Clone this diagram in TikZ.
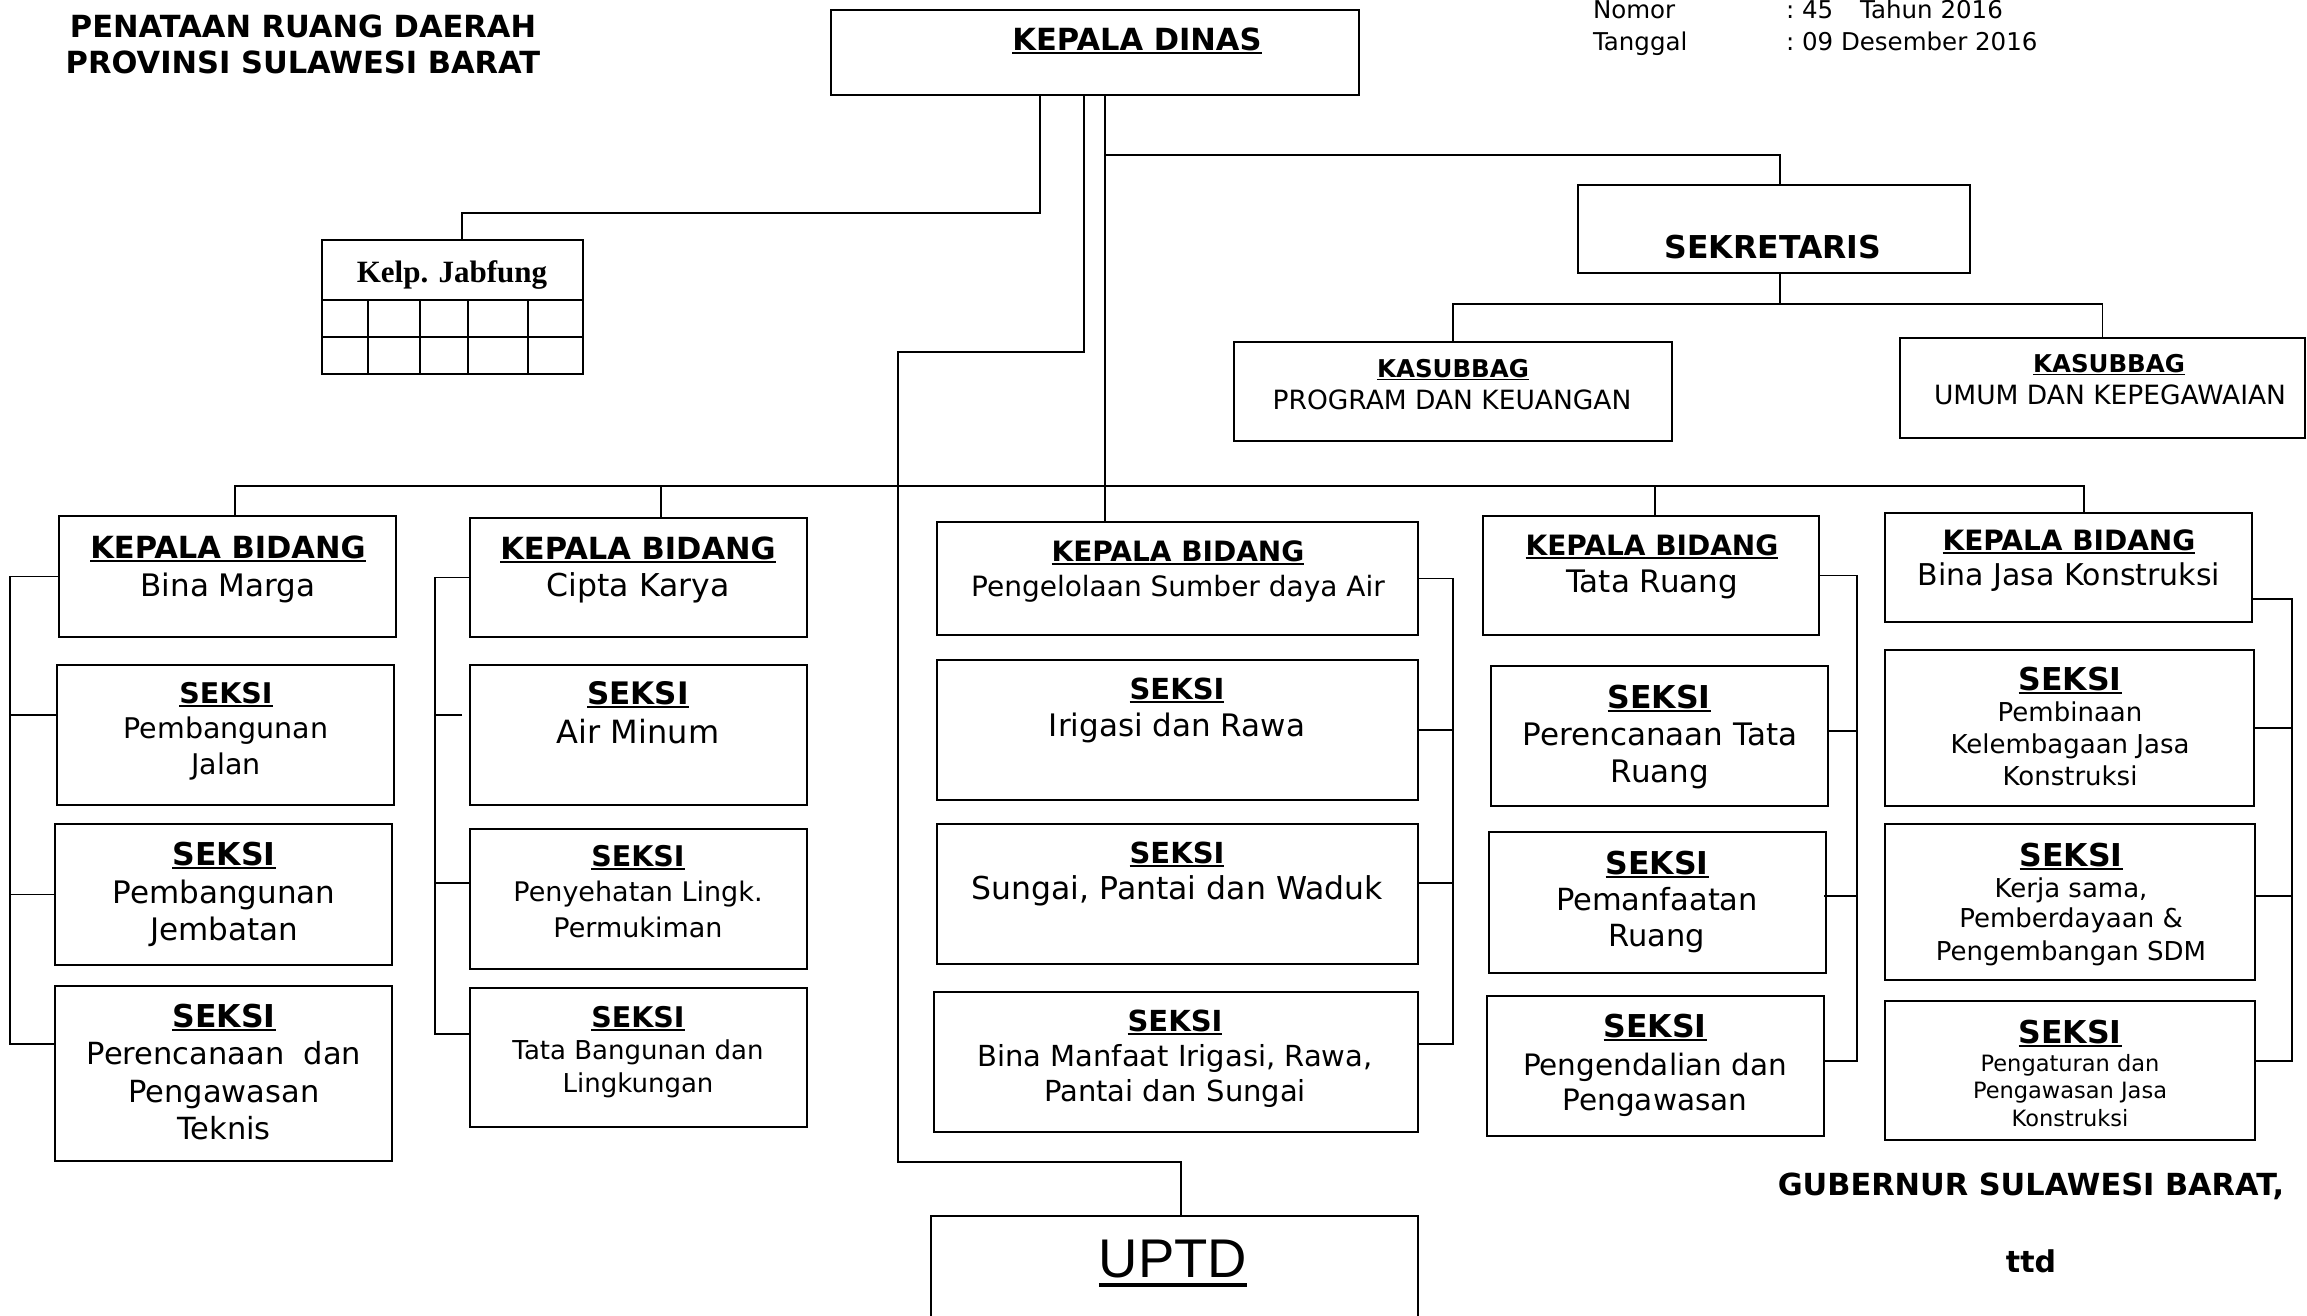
\documentclass[tikz,border=0pt]{standalone}
\usepackage{fontspec}
\setmainfont{DejaVu Sans}
\newfontfamily\serifb{Liberation Serif}
\newfontfamily\arialf{Liberation Sans}
\usetikzlibrary{fit}
\newcounter{tn}
\newcommand\fsz[1]{\fontsize{#1}{#1}\selectfont}
\newcommand\myul[1]{\setbox0=\hbox{#1}\rlap{\rule[-0.14em]{\wd0}{0.07em}}\box0}
\newcommand\myulb[1]{\setbox0=\hbox{#1}\rlap{\rule[-0.19em]{\wd0}{0.075em}}\box0}
\newcommand\Tx[4]{\stepcounter{tn}\node[tx] (t\arabic{tn}) at (#1,#2) {\fsz{#3}#4};}
\newcommand\TLx[4]{\stepcounter{tn}\node[tx,anchor=base west] (t\arabic{tn}) at (#1,#2) {\fsz{#3}#4};}
\newcommand\Hd[4]{\Tx{#1}{#2}{#3}{\bfseries\myul{#4}}}
\newcommand\Bx[5]{\node[bx, fit={(#2,#3) (#4,#5)}] (#1) {};}
\begin{document}
\begin{tikzpicture}[x=1pt,y=-1pt,
  tx/.style={anchor=base,inner sep=0pt,outer sep=0pt},
  bx/.style={draw,line width=2pt,inner sep=0pt},
  cn/.style={line width=1.7pt},
  grid/.style={line width=1.7pt}]
\useasboundingbox (0,0) rectangle (2307,1315);
\clip (0,0) rectangle (2307,1315);

% ---------- boxes ----------
\Bx{kd}{831}{10}{1359}{95}
\Bx{jf}{322}{240}{583}{374}
\Bx{sek}{1578}{185}{1970}{273}
\Bx{ksa}{1234}{342}{1672}{441}
\Bx{ksb}{1900}{338}{2305}{438}
\Bx{bma}{59}{516}{396}{637}
\Bx{bmb}{57}{665}{394}{805}
\Bx{bmc}{55}{824}{392}{965}
\Bx{bmd}{55}{986}{392}{1161}
\Bx{cka}{470}{518}{807}{637}
\Bx{ckb}{470}{665}{807}{805}
\Bx{ckc}{470}{829}{807}{969}
\Bx{ckd}{470}{988}{807}{1127}
\Bx{sda}{937}{522}{1418}{635}
\Bx{sdb}{937}{660}{1418}{800}
\Bx{sdc}{937}{824}{1418}{964}
\Bx{sdd}{934}{992}{1418}{1132}
\Bx{up}{931}{1216}{1418}{1335}
\Bx{tra}{1483}{516}{1819}{635}
\Bx{trb}{1491}{666}{1828}{806}
\Bx{trc}{1489}{832}{1826}{973}
\Bx{trd}{1487}{996}{1824}{1136}
\Bx{bja}{1885}{513}{2252}{622}
\Bx{bjb}{1885}{650}{2254}{806}
\Bx{bjc}{1885}{824}{2255}{980}
\Bx{bjd}{1885}{1001}{2255}{1140}

% Jabfung table grid
\draw[grid] (322,300) -- (583,300);
\draw[grid] (322,337) -- (583,337);
\foreach \gx in {368,420,468,528} \draw[grid] (\gx,300) -- (\gx,374);

% ---------- coordinates ----------
\coordinate (kdB) at (1105,155);
\coordinate (jfJ) at (462,213);
\coordinate (uB) at (898,352);
\coordinate (uA) at (898,1162);
\coordinate (busL) at (235,486);
\coordinate (busR) at (2084,486);
\coordinate (sekJ) at (1780,304);
\coordinate (sBM) at (10,0);
\coordinate (sCK) at (435,0);
\coordinate (sSD) at (1453,0);
\coordinate (sTR) at (1857,0);
\coordinate (sBJ) at (2292,0);

% ---------- connectors ----------
\draw[cn] ([xshift=-55pt]kd.south) |- (jfJ) -- (jfJ |- jf.north);
\draw[cn] ([xshift=-11pt]kd.south) |- (uB) -- (uA) -| ([xshift=6.5pt]up.north);
\draw[cn] ([xshift=10pt]kd.south) -- ([xshift=10pt]kd.south |- sda.north);
\draw[cn] (kdB) -| ([xshift=6pt]sek.north);
\draw[cn] ([xshift=6pt]sek.south) -- (sekJ);
\draw[cn] (ksa.north) |- (sekJ) -| (ksb.north);
\draw[cn] (busL |- bma.north) -- (busL) -- (busR) -- (busR |- bja.north);
\draw[cn] ([xshift=22.5pt]cka.north) -- ([xshift=22.5pt]cka.north |- busL);
\draw[cn] ([xshift=4pt]tra.north) -- ([xshift=4pt]tra.north |- busL);

% Bina Marga bracket
\draw[cn] (bma.west) -| ([yshift=29.5pt]bmd.west -| sBM) -- ([yshift=29.5pt]bmd.west);
\draw[cn] ([yshift=20pt]bmb.west) -- ([yshift=20pt]bmb.west -| sBM);
\draw[cn] (bmc.west) -- (bmc.west -| sBM);
% Cipta Karya bracket
\draw[cn] (cka.west) -| ([yshift=23.5pt]ckd.west -| sCK) -- ([yshift=23.5pt]ckd.west);
\draw[cn] ([xshift=-7pt,yshift=20pt]ckb.west) -- ([yshift=20pt]ckb.west -| sCK);
\draw[cn] ([yshift=16pt]ckc.west) -- ([yshift=16pt]ckc.west -| sCK);
% PSDA bracket
\draw[cn] (sda.east) -| ([yshift=18pt]sdd.east -| sSD) -- ([yshift=18pt]sdd.east);
\draw[cn] (sdb.east) -- (sdb.east -| sSD);
\draw[cn] ([yshift=11pt]sdc.east) -- ([yshift=11pt]sdc.east -| sSD);
% Tata Ruang bracket
\draw[cn] (tra.east) -| ([yshift=5pt]trd.east -| sTR) -- ([yshift=5pt]trd.east);
\draw[cn] ([yshift=5pt]trb.east) -- ([yshift=5pt]trb.east -| sTR);
\draw[cn] ([xshift=-3pt,yshift=6.5pt]trc.east) -- ([yshift=6.5pt]trc.east -| sTR);
% Bina Jasa bracket
\draw[cn] ([yshift=-31.5pt]bja.east) -| ([yshift=9.5pt]bjd.east -| sBJ) -- ([yshift=9.5pt]bjd.east);
\draw[cn] (bjb.east) -- (bjb.east -| sBJ);
\draw[cn] ([yshift=6pt]bjc.east) -- ([yshift=6pt]bjc.east -| sBJ);

% ---------- texts ----------
\Tx{303}{37}{30.5}{\bfseries PENATAAN RUANG DAERAH}
\Tx{303}{73}{30.5}{\bfseries PROVINSI SULAWESI BARAT}
\Hd{1137}{50}{30.5}{KEPALA DINAS}
\TLx{1593}{18}{24.5}{Nomor}
\TLx{1786}{18}{24.5}{:\ 45\hspace{27pt}Tahun 2016}
\TLx{1593}{50}{24.5}{Tanggal}
\TLx{1786}{50}{24.5}{:\ 09 Desember 2016}
\Tx{452}{282}{31}{\serifb\bfseries Kelp. Jabfung}
\Tx{1773}{258}{31.5}{\bfseries SEKRETARIS}
\Hd{1453}{377}{24.5}{KASUBBAG}
\Tx{1452}{409}{26.5}{PROGRAM DAN KEUANGAN}
\Hd{2109}{372}{24.5}{KASUBBAG}
\Tx{2110}{404}{26.5}{UMUM DAN KEPEGAWAIAN}

% Bina Marga
\Hd{228}{558}{30.5}{KEPALA BIDANG}
\Tx{228}{596}{31}{Bina Marga}
\Hd{226}{703}{28.5}{SEKSI}
\Tx{226}{738}{28.5}{Pembangunan}
\Tx{226}{774}{28.5}{Jalan}
\Hd{224}{865}{31.5}{SEKSI}
\Tx{224}{903}{31}{Pembangunan}
\Tx{224}{940}{31}{Jembatan}
\Hd{224}{1027}{31.5}{SEKSI}
\Tx{224}{1064}{30.5}{Perencanaan\ \ dan}
\Tx{224}{1102}{30.5}{Pengawasan}
\Tx{224}{1139}{30.5}{Teknis}

% Cipta Karya
\Hd{638}{559}{30.5}{KEPALA BIDANG}
\Tx{638}{596}{31.5}{Cipta Karya}
\Hd{638}{704}{31}{SEKSI}
\Tx{638}{743}{32}{Air Minum}
\Hd{638}{866}{28.5}{SEKSI}
\Tx{638}{901}{27}{Penyehatan Lingk.}
\Tx{638}{937}{27}{Permukiman}
\Hd{638}{1027}{28.5}{SEKSI}
\Tx{638}{1059}{26}{Tata Bangunan dan}
\Tx{638}{1092}{26}{Lingkungan}

% PSDA
\Hd{1178}{561}{28}{KEPALA BIDANG}
\Tx{1178}{596}{28}{Pengelolaan Sumber daya Air}
\Hd{1177}{699}{29}{SEKSI}
\Tx{1177}{736}{31}{Irigasi dan Rawa}
\Hd{1177}{863}{29}{SEKSI}
\Tx{1177}{899}{31.5}{Sungai, Pantai dan Waduk}
\Hd{1175}{1031}{29}{SEKSI}
\Tx{1175}{1066}{29}{Bina Manfaat Irigasi, Rawa,}
\Tx{1175}{1101}{29}{Pantai dan Sungai}

% UPTD
\Tx{1173}{1277}{54.5}{\arialf\myulb{UPTD}}

% Tata Ruang
\Hd{1652}{555}{28}{KEPALA BIDANG}
\Tx{1652}{592}{31}{Tata Ruang}
\Hd{1659}{708}{31.5}{SEKSI}
\Tx{1660}{745}{31}{Perencanaan Tata}
\Tx{1660}{782}{31}{Ruang}
\Hd{1657}{874}{31.5}{SEKSI}
\Tx{1657}{910}{30.5}{Pemanfaatan}
\Tx{1657}{946}{30.5}{Ruang}
\Hd{1655}{1037}{31.5}{SEKSI}
\Tx{1655}{1075}{29.5}{Pengendalian dan}
\Tx{1655}{1110}{29.5}{Pengawasan}

% Bina Jasa Konstruksi
\Hd{2069}{550}{28}{KEPALA BIDANG}
\Tx{2069}{585}{30}{Bina Jasa Konstruksi}
\Hd{2070}{690}{31.5}{SEKSI}
\Tx{2070}{721}{26}{Pembinaan}
\Tx{2070}{753}{26}{Kelembagaan Jasa}
\Tx{2070}{785}{26}{Konstruksi}
\Hd{2071}{866}{31.5}{SEKSI}
\Tx{2071}{897}{26}{Kerja sama,}
\Tx{2071}{927}{26}{Pemberdayaan \&}
\Tx{2071}{960}{26}{Pengembangan SDM}
\Hd{2070}{1043}{31.5}{SEKSI}
\Tx{2070}{1071}{22.5}{Pengaturan dan}
\Tx{2070}{1098}{22.5}{Pengawasan Jasa}
\Tx{2070}{1126}{22.5}{Konstruksi}

% Signature
\Tx{2031}{1195}{30.4}{\bfseries GUBERNUR SULAWESI BARAT,}
\Tx{2031}{1272}{30}{\bfseries ttd}
\end{tikzpicture}
\end{document}
